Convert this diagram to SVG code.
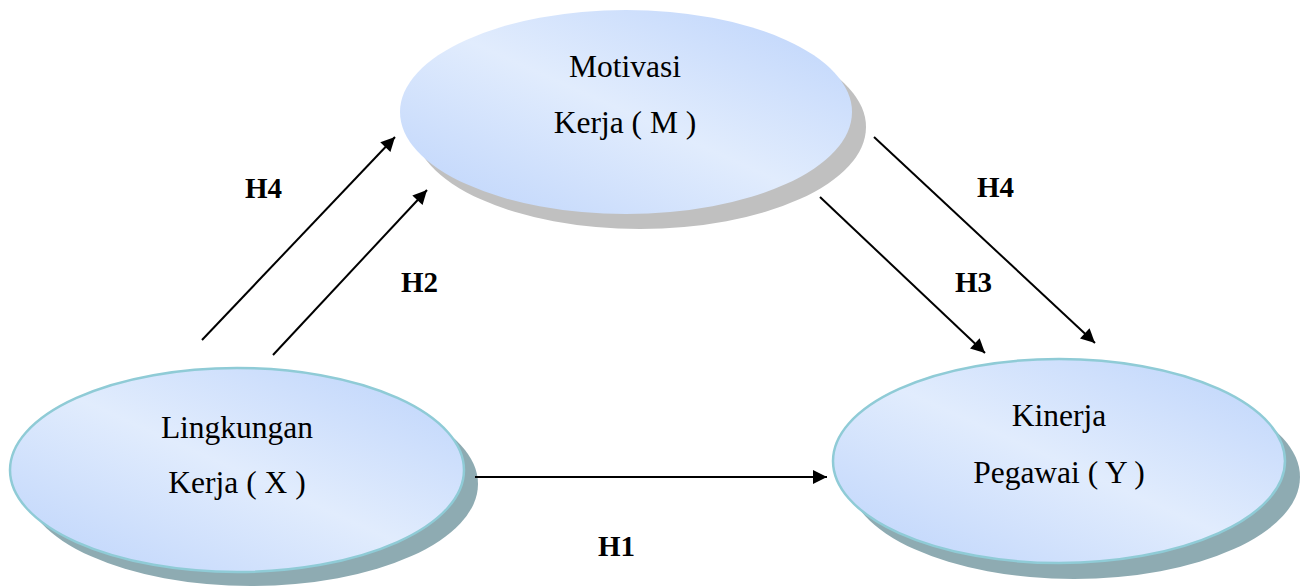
<svg xmlns="http://www.w3.org/2000/svg" width="1309" height="587" viewBox="0 0 1309 587">
<style>
.lbl{font-family:"Liberation Serif","Times New Roman",serif;font-size:31.5px;fill:#000;text-anchor:middle}
.h{font-family:"Liberation Serif","Times New Roman",serif;font-size:29px;font-weight:bold;fill:#000}
.edge{stroke:#000;stroke-width:2;fill:none;marker-end:url(#arr)}
.body{fill:url(#g)}
.rim{stroke:#8fcbd6;stroke-width:2.5}
.shM{fill:#c0c0c0}
.sh{fill:#8eabb2}
</style>
<defs>
<linearGradient id="g" x1="0" y1="1" x2="1" y2="0">
<stop offset="0" stop-color="#bcd3fb"/>
<stop offset="0.5" stop-color="#e1ecfd"/>
<stop offset="1" stop-color="#bcd3fb"/>
</linearGradient>
<marker id="arr" viewBox="0 0 10 10" refX="10" refY="5" markerWidth="8" markerHeight="7" markerUnits="strokeWidth" orient="auto">
<path d="M0,0 L10,5 L0,10 z" fill="#000"/>
</marker>
</defs>
<g id="node-M">
<ellipse class="shM" cx="640" cy="127" rx="226" ry="102"/>
<ellipse class="body" cx="626" cy="112" rx="226" ry="102"/>
<text class="lbl" x="625" y="77">Motivasi</text>
<text class="lbl" x="625" y="133">Kerja ( M )</text>
</g>
<g id="node-X">
<ellipse class="sh" cx="251" cy="484" rx="227" ry="102"/>
<ellipse class="body rim" cx="237" cy="470" rx="227" ry="102"/>
<text class="lbl" x="237" y="438">Lingkungan</text>
<text class="lbl" x="237" y="493">Kerja ( X )</text>
</g>
<g id="node-Y">
<ellipse class="sh" cx="1074" cy="477" rx="226" ry="102"/>
<ellipse class="body rim" cx="1059" cy="461" rx="226" ry="102"/>
<text class="lbl" x="1059" y="426">Kinerja</text>
<text class="lbl" x="1059" y="483">Pegawai ( Y )</text>
</g>
<g id="connectors">
<line class="edge" x1="202" y1="340" x2="395" y2="137"/>
<line class="edge" x1="273" y1="355" x2="427" y2="190"/>
<line class="edge" x1="820" y1="197" x2="985" y2="353"/>
<line class="edge" x1="874" y1="137" x2="1095" y2="343"/>
<line class="edge" x1="475" y1="477" x2="827" y2="477"/>
</g>
<g id="labels">
<text class="h" x="245" y="198">H4</text>
<text class="h" x="401" y="292">H2</text>
<text class="h" x="977" y="197">H4</text>
<text class="h" x="955" y="292">H3</text>
<text class="h" x="598" y="556">H1</text>
</g>
</svg>
